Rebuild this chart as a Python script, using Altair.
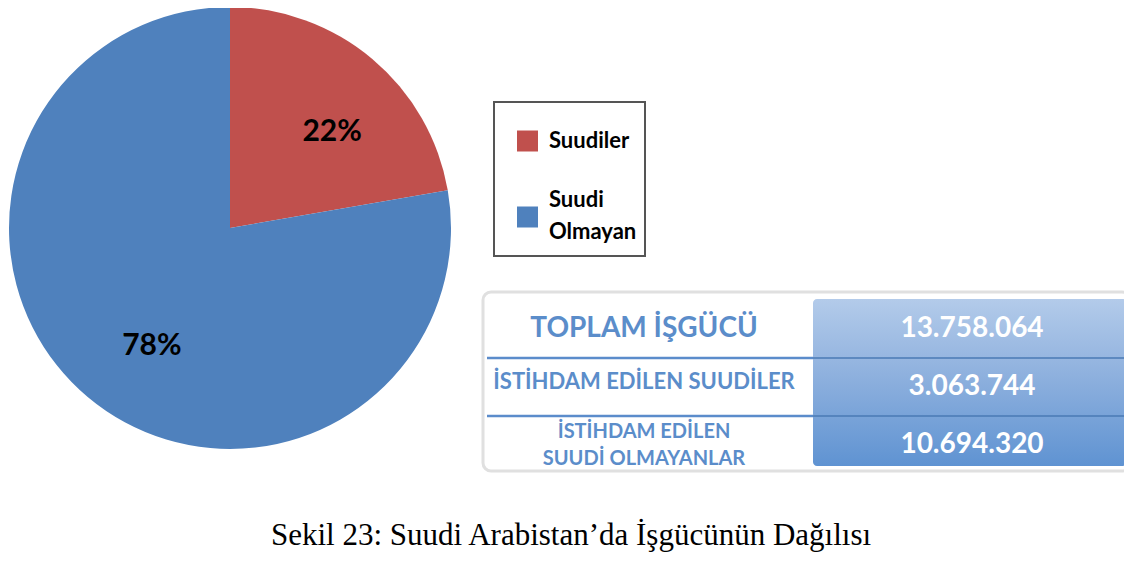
import altair as alt
import pandas as pd

# ---- data ----
groups = ["Suudiler", "Suudi Olmayan"]
group_counts = [3063744, 10694320]
slice_colors = ["#C0504D", "#4F81BD"]

row_labels = ["TOPLAM İŞGÜCÜ", "İSTİHDAM EDİLEN SUUDİLER", "İSTİHDAM EDİLEN\nSUUDİ OLMAYANLAR"]
row_counts = [13758064, 3063744, 10694320]

caption = ["Sekil 23: Suudi Arabistan’da İşgücünün Dağılısı"]

FONT = "Lato"

pie_df = pd.DataFrame({"group": groups, "count": group_counts, "ord": [0, 1]})
table_df = pd.DataFrame({"row": row_labels, "count": row_counts, "r": [0, 1, 2]})
one_df = pd.DataFrame({"k": [0]})
cap_df = pd.DataFrame({"caption": caption})

color_scale = alt.Scale(domain=groups, range=slice_colors)

# ---- pie ----
CX, CY, R = 222, 220, 221
base = (
    alt.Chart(pie_df)
    .transform_joinaggregate(total="sum(count)")
    .transform_calculate(pct="round(datum.count / datum.total * 100) + '%'")
    .encode(
        theta=alt.Theta("count:Q", stack=True),
        order=alt.Order("ord:Q"),
        x=alt.value(CX),
        y=alt.value(CY),
    )
)
pie = base.mark_arc(outerRadius=R).encode(color=alt.Color("group:N", scale=color_scale, legend=None))
pie_labels = base.mark_text(
    radius=140, font=FONT, fontSize=30, fontWeight="bold", color="black", dx=12, dy=11
).encode(text="pct:N")

# ---- legend (drawn box) ----
leg_box = alt.Chart(one_df).mark_rect(
    fill="white", stroke="#555555", strokeWidth=2
).encode(x=alt.value(486), x2=alt.value(637), y=alt.value(94), y2=alt.value(248))

leg_base = alt.Chart(pie_df).transform_calculate(
    soff="datum.ord * 76", toff="datum.ord * 59"
)
leg_sym = leg_base.mark_square(size=441, opacity=1).encode(
    x=alt.value(519.5), y=alt.value(133),
    yOffset=alt.YOffset("soff:Q", scale=None),
    color=alt.Color("group:N", scale=color_scale, legend=None),
)
leg_txt = leg_base.mark_text(
    font=FONT, fontSize=22, fontWeight="bold", color="black", align="left",
    baseline="middle", lineBreak=" ", lineHeight=32,
).encode(
    x=alt.value(541), y=alt.value(133),
    yOffset=alt.YOffset("toff:Q", scale=None),
    text="group:N",
)

# ---- table ----
rows_scale = alt.Scale(domain=row_labels, range=[292, 466], paddingInner=0, paddingOuter=0)
row_y = alt.Y("row:N", sort=row_labels, scale=rows_scale, axis=None)

frame = alt.Chart(one_df).mark_rect(
    fill="white", stroke="#e0e0e0", strokeWidth=3, cornerRadius=8
).encode(x=alt.value(475), x2=alt.value(1122), y=alt.value(284), y2=alt.value(463))

grad = alt.Chart(one_df).mark_rect(
    cornerRadius=4,
    color=alt.Gradient(
        gradient="linear",
        stops=[alt.GradientStop(color="#b3cbea", offset=0),
               alt.GradientStop(color="#8fb1de", offset=0.45),
               alt.GradientStop(color="#5f93d2", offset=1)],
        x1=0, x2=0, y1=0, y2=1,
    ),
).encode(x=alt.value(805), x2=alt.value(1119), y=alt.value(291), y2=alt.value(458))

sep_y = alt.Y("row:N", sort=row_labels, scale=rows_scale, axis=None, bandPosition=0)
sep_left = alt.Chart(table_df).transform_filter("datum.r > 0").mark_rule(
    color="#5b8ccb", strokeWidth=2.5
).encode(y=sep_y, x=alt.value(479), x2=alt.value(805))
sep_right = alt.Chart(table_df).transform_filter("datum.r > 0").mark_rule(
    color="#4a7ab4", strokeWidth=1.5
).encode(y=sep_y, x=alt.value(805), x2=alt.value(1119))

left_text = (
    alt.Chart(table_df)
    .transform_calculate(
        off="datum.r == 0 ? 29 : (datum.r == 1 ? 24 : 16)",
        fs="datum.r == 0 ? 28 : (datum.r == 1 ? 22 : 20)",
    )
    .mark_text(
        font=FONT, fontWeight="bold", color="#5b8dca", lineBreak="\n", lineHeight=27,
        align="center", baseline="middle",
    )
    .encode(
        y=row_y, x=alt.value(636), text="row:N",
        yOffset=alt.YOffset("off:Q", scale=None),
        size=alt.Size("fs:Q", scale=None, legend=None),
    )
)

num_text = (
    alt.Chart(table_df)
    .transform_calculate(label="replace(format(datum.count, ','), regexp(',', 'g'), '.')")
    .mark_text(font=FONT, fontWeight="bold", color="white", fontSize=28,
               align="center", baseline="middle")
    .encode(y=row_y, x=alt.value(964), text="label:N")
)

cap = alt.Chart(cap_df).mark_text(
    font="Liberation Serif", fontSize=31, color="black", align="center", baseline="alphabetic"
).encode(x=alt.value(563), y=alt.value(537), text="caption:N")

chart = alt.layer(
    pie, pie_labels, leg_box, leg_sym, leg_txt,
    frame, grad, sep_left, sep_right, left_text, num_text, cap
).properties(
    width=1116, height=545, padding=0, autosize=alt.AutoSizeParams(type="none")
).configure_view(stroke=None)

chart.save("out.html", embed_options={"renderer": "svg", "actions": False})
